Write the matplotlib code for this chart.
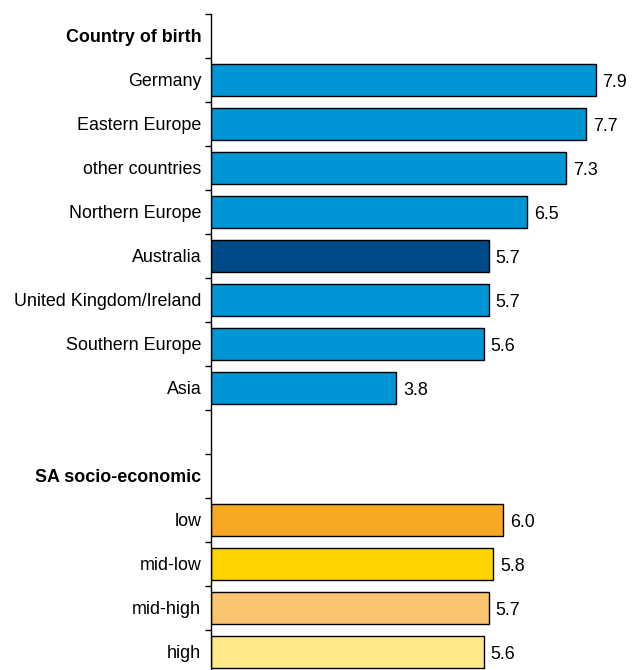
import matplotlib
matplotlib.use("Agg")
import matplotlib.pyplot as plt
import numpy as np

plt.rcParams['font.family'] = ['Liberation Sans', 'DejaVu Sans']

categories = ["Country of birth", "Germany", "Eastern Europe", "other countries", "Northern Europe",
              "Australia", "United Kingdom/Ireland", "Southern Europe", "Asia", "",
              "SA socio-economic", "low", "mid-low", "mid-high", "high"]
values = [None, 7.9, 7.7, 7.3, 6.5, 5.7, 5.7, 5.6, 3.8, None, None, 6.0, 5.8, 5.7, 5.6]
colors = [None, "#0096d6", "#0096d6", "#0096d6", "#0096d6", "#004a87", "#0096d6", "#0096d6", "#0096d6",
          None, None, "#f7a823", "#ffd400", "#fbc46e", "#ffe98a"]
headers = {"Country of birth", "SA socio-economic"}

FS = 12.9
fig = plt.figure(figsize=(6.37, 6.70), dpi=100)
n = len(categories)
ax = fig.add_axes([211/637, -4/670, 1 - 211/637, 660/670])

for i, (c, v, col) in enumerate(zip(categories, values, colors)):
    if v is None:
        continue
    ax.barh(i, v, height=0.72, color=col, edgecolor="black", linewidth=1.0)
    ax.text(v + 0.14, i + 0.05, f"{v:.1f}", va="center", ha="left", fontsize=FS)

ax.set_ylim(n - 0.5, -0.5)
ax.set_xlim(0, 8.75)
ax.set_yticks(range(n))
ax.set_yticklabels(categories, fontsize=FS)
for lab in ax.get_yticklabels():
    if lab.get_text() in headers:
        lab.set_fontweight("bold")
ax.tick_params(axis="y", which="major", length=0, pad=7)
ax.set_yticks(np.arange(-0.5, n, 1.0), minor=True)
ax.tick_params(axis="y", which="minor", length=4, width=1, direction="out")
ax.set_xticks([])
for s in ["top", "right", "bottom"]:
    ax.spines[s].set_visible(False)
ax.spines["left"].set_linewidth(1)

fig.savefig("out.png", dpi=100)
